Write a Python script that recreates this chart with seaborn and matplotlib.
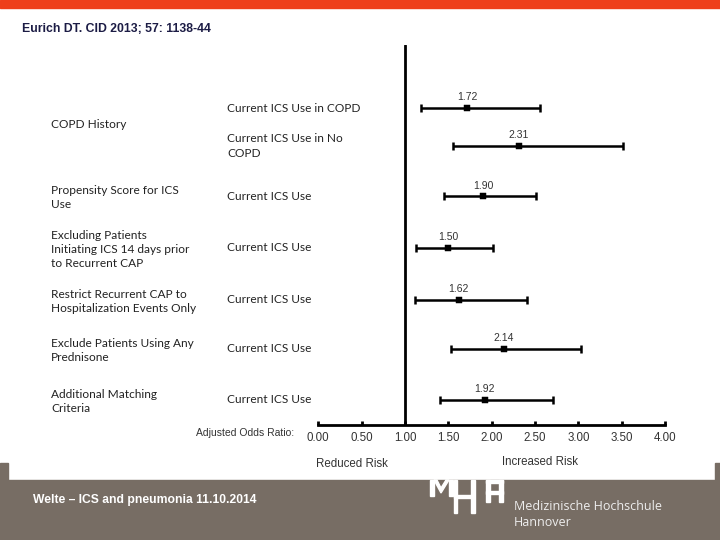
import matplotlib
matplotlib.use("Agg")
import matplotlib.pyplot as plt
import matplotlib.transforms as mtransforms
from matplotlib.patches import Rectangle, Polygon
import pandas as pd
import seaborn as sns

# data
groups = ["COPD History", "", "Propensity Score for ICS\nUse",
          "Excluding Patients\nInitiating ICS 14 days prior\nto Recurrent CAP",
          "Restrict Recurrent CAP to\nHospitalization Events Only",
          "Exclude Patients Using Any\nPrednisone",
          "Additional Matching\nCriteria"]
exposures = ["Current ICS Use in COPD", "Current ICS Use in No\nCOPD",
             "Current ICS Use", "Current ICS Use", "Current ICS Use",
             "Current ICS Use", "Current ICS Use"]
odds_ratio = [1.72, 2.31, 1.90, 1.50, 1.62, 2.14, 1.92]
ci_low = [1.18, 1.55, 1.45, 1.13, 1.11, 1.53, 1.40]
ci_high = [2.56, 3.51, 2.51, 2.02, 2.41, 3.03, 2.71]
xticks = [0.0, 0.5, 1.0, 1.5, 2.0, 2.5, 3.0, 3.5, 4.0]

# row positions (first two rows belong to the same group, so they sit closer)
row_y = [0, 0.75, 1.75, 2.77, 3.8, 4.77, 5.78]

df = pd.DataFrame({"group": groups, "exposure": exposures, "or": odds_ratio,
                   "lo": ci_low, "hi": ci_high, "y": row_y})

sns.set_theme(style="white")
plt.rcParams["font.family"] = ["Liberation Sans", "DejaVu Sans"]

fig = plt.figure(figsize=(7.2, 5.4), dpi=100)
fig.patch.set_facecolor("white")

def fx(px):
    return px / 720

def fy(py):
    return 1 - py / 540

# slide decoration: orange top bar, brown footer with white panel inset
fig.patches.append(Rectangle((0, fy(8)), 1, 8 / 540, transform=fig.transFigure,
                             color="#ee3f1b", zorder=0))
foot = "#776d64"
fig.patches.append(Rectangle((0, 0), 1, fy(480), transform=fig.transFigure,
                             color=foot, zorder=0))
fig.patches.append(Rectangle((0, 0), fx(8), fy(463), transform=fig.transFigure,
                             color=foot, zorder=0))
fig.patches.append(Rectangle((fx(715), 0), fx(5), fy(463), transform=fig.transFigure,
                             color=foot, zorder=0))

# MHH logo, rough white blocks
logo = [(430, 480, 4, 16), (449, 480, 4, 16), (454, 480, 3, 33), (471, 480, 4, 33),
        (454, 495, 20, 3), (486, 480, 4, 22), (499, 480, 4, 22), (486, 480, 17, 3),
        (486, 491, 17, 3)]
for x0, y0, w, h in logo:
    fig.patches.append(Rectangle((fx(x0), fy(y0 + h)), fx(w), h / 540,
                                 transform=fig.transFigure, color="white", zorder=1))
fig.patches.append(Polygon([(fx(434), fy(480)), (fx(441), fy(493)), (fx(449), fy(480)),
                            (fx(446), fy(480)), (fx(441), fy(488)), (fx(437), fy(480))],
                           closed=True, transform=fig.transFigure, color="white", zorder=1))

ax = fig.add_axes([fx(318.3), fy(425), fx(665 - 318.3), (425 - 45) / 540])
ax.set_facecolor("none")

ax.errorbar(df["or"], df["y"], xerr=[df["or"] - df["lo"], df["hi"] - df["or"]],
            fmt="none", ecolor="black", elinewidth=1.8, capsize=3, capthick=1.8)
sns.scatterplot(data=df, x="or", y="y", marker="s", s=18, color="black",
                edgecolor="black", ax=ax, zorder=3)

for _, r in df.iterrows():
    ax.text(r["or"], r["y"] - 0.21, f"{r['or']:.2f}", ha="center", va="center",
            fontsize=7.5, color="#333333")

ax.axvline(1.0, color="black", linewidth=2)
ax.set_xlim(0, 4)
ax.set_ylim(6.28, -1.25)
ax.set_xticks(xticks)
ax.set_xticklabels([f"{t:.2f}" for t in xticks], fontsize=8.3, color="#333333")
ax.set_yticks([])
ax.set_xlabel("")
ax.set_ylabel("")
for side in ["top", "right", "left"]:
    ax.spines[side].set_visible(False)
ax.spines["bottom"].set_linewidth(2)
ax.spines["bottom"].set_color("black")
ax.tick_params(axis="x", direction="in", length=3, width=2, color="black", pad=5,
               bottom=True)

# row labels on the left
tr = mtransforms.blended_transform_factory(fig.transFigure, ax.transData)
label_font = ["Lato", "DejaVu Sans"]
for _, r in df.iterrows():
    ax.text(fx(227), r["y"], r["exposure"], transform=tr, ha="left", va="center",
            fontsize=8.6, family=label_font, color="#222222", linespacing=1.35)
    if r["group"]:
        gy = (row_y[0] + row_y[1]) / 2 - 0.05 if r["group"] == "COPD History" else r["y"] + 0.03
        ax.text(fx(51), gy, r["group"], transform=tr, ha="left", va="center",
                fontsize=8.6, family=label_font, color="#222222", linespacing=1.35)

fig.text(fx(196), fy(433), "Adjusted Odds Ratio:", fontsize=7.5, color="#333333",
         ha="left", va="center")
fig.text(fx(352), fy(464), "Reduced Risk", fontsize=8.3, color="#333333",
         ha="center", va="center")
fig.text(fx(540), fy(462), "Increased Risk", fontsize=8.3, color="#333333",
         ha="center", va="center")

fig.text(fx(22), fy(29), "Eurich DT. CID 2013; 57: 1138-44", fontsize=8.8,
         fontweight="bold", family=["Liberation Sans", "DejaVu Sans"],
         color="#1c1c45", ha="left", va="center")
fig.text(fx(33), fy(500), "Welte \u2013 ICS and pneumonia 11.10.2014", fontsize=8.7,
         fontweight="bold", family=["Liberation Sans", "DejaVu Sans"],
         color="white", ha="left", va="center")
fig.text(fx(514), fy(507), "Medizinische Hochschule", fontsize=9,
         family=["Open Sans", "DejaVu Sans"], color="#eeeeee", ha="left", va="center")
fig.text(fx(514), fy(523), "Hannover", fontsize=9,
         family=["Open Sans", "DejaVu Sans"], color="#eeeeee", ha="left", va="center")

fig.savefig("out.png", dpi=100)
